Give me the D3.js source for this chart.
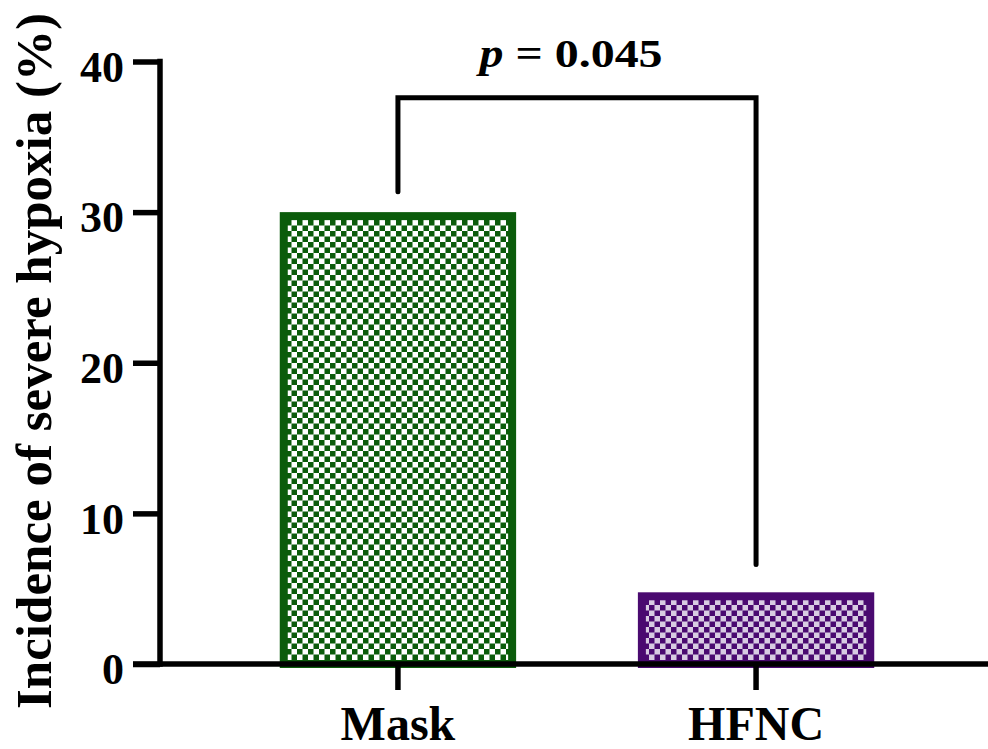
<!DOCTYPE html>
<html>
<head>
<meta charset="utf-8">
<script src="https://cdn.jsdelivr.net/npm/d3@7"></script>
<style>
  body { margin: 0; background: #fff; }
  text { font-family: "Liberation Serif", "Times New Roman", serif; font-weight: bold; }
</style>
</head>
<body>
<svg id="chart" width="988" height="749"></svg>
<script>
// data
const groups = ["Mask", "HFNC"];
const incidence = [30, 4.76];
const barColors = ["#0b5c0b", "#4a0a70"];
const lightColors = ["#ffffff", "#d8cce2"];
const yTicks = [0, 10, 20, 30, 40];
const pLabel = "0.045";

const svg = d3.select("#chart");
const sw = 8; // bar outline width
const cell = 5.5; // checker cell

const y = d3.scaleLinear().domain([0, 40]).range([664, 61.5]);
const x = d3.scaleBand().domain(groups).range([158, 996]).paddingInner(0.34).paddingOuter(0.34);

// checker patterns
const defs = svg.append("defs");
groups.forEach((g, i) => {
  const pat = defs.append("pattern")
    .attr("id", "chk" + i)
    .attr("patternUnits", "userSpaceOnUse")
    .attr("width", cell * 2).attr("height", cell * 2);
  pat.append("rect").attr("width", cell * 2).attr("height", cell * 2).attr("fill", lightColors[i]);
  pat.append("rect").attr("width", cell).attr("height", cell).attr("fill", barColors[i]);
  pat.append("rect").attr("x", cell).attr("y", cell).attr("width", cell).attr("height", cell).attr("fill", barColors[i]);
});

// bars
svg.append("g").selectAll("rect")
  .data(groups)
  .join("rect")
  .attr("x", d => x(d) + sw / 2)
  .attr("width", x.bandwidth() - sw)
  .attr("y", (d, i) => y(incidence[i]) + sw / 2)
  .attr("height", (d, i) => y(0) - y(incidence[i]) - sw / 2)
  .attr("fill", (d, i) => "url(#chk" + i + ")")
  .attr("stroke", (d, i) => barColors[i])
  .attr("stroke-width", sw);

// y axis
const yAxis = svg.append("g")
  .attr("transform", "translate(160,0)")
  .call(d3.axisLeft(y).tickValues(yTicks).tickSize(27).tickPadding(9).tickSizeOuter(0));
yAxis.select(".domain").attr("stroke", "#000").attr("stroke-width", 5.5)
  .attr("d", `M0,${y(0) + 2.75}V${y(40) - 2.75}`);
yAxis.selectAll(".tick line").attr("stroke", "#000").attr("stroke-width", 5.5);
yAxis.selectAll(".tick text")
  .attr("fill", "#000")
  .style("font-size", "44px")
  .attr("dy", "0.45em");

// x axis
const xAxis = svg.append("g")
  .attr("transform", `translate(0,${y(0)})`)
  .call(d3.axisBottom(x).tickSize(26).tickPadding(16).tickSizeOuter(0));
xAxis.select(".domain").attr("stroke", "#000").attr("stroke-width", 5.5)
  .attr("d", "M133,0H988");
xAxis.selectAll(".tick line").attr("stroke", "#000").attr("stroke-width", 5.5);
xAxis.selectAll(".tick text")
  .attr("fill", "#000")
  .style("font-size", "48px")
  .attr("dy", "0.71em");

// y title
svg.append("text")
  .attr("transform", `translate(51,361) rotate(-90)`)
  .attr("text-anchor", "middle")
  .style("font-size", "51px")
  .text("Incidence of severe hypoxia (%)");

// significance bracket
const bx0 = x("Mask") + x.bandwidth() / 2;
const bx1 = x("HFNC") + x.bandwidth() / 2;
svg.append("path")
  .attr("d", `M${bx0},${y(31.35)}V${y(37.6)}H${bx1}V${y(6.6)}`)
  .attr("fill", "none")
  .attr("stroke", "#000")
  .attr("stroke-width", 5)
  .attr("stroke-linecap", "round")
  .attr("stroke-linejoin", "miter");

const pText = svg.append("text")
  .attr("transform", `translate(${(bx0 + bx1) / 2 - 6},67) scale(1.17,1)`)
  .attr("text-anchor", "middle")
  .style("font-size", "41px");
pText.append("tspan").style("font-style", "italic").text("p");
pText.append("tspan").text(" = " + pLabel);
</script>
</body>
</html>
